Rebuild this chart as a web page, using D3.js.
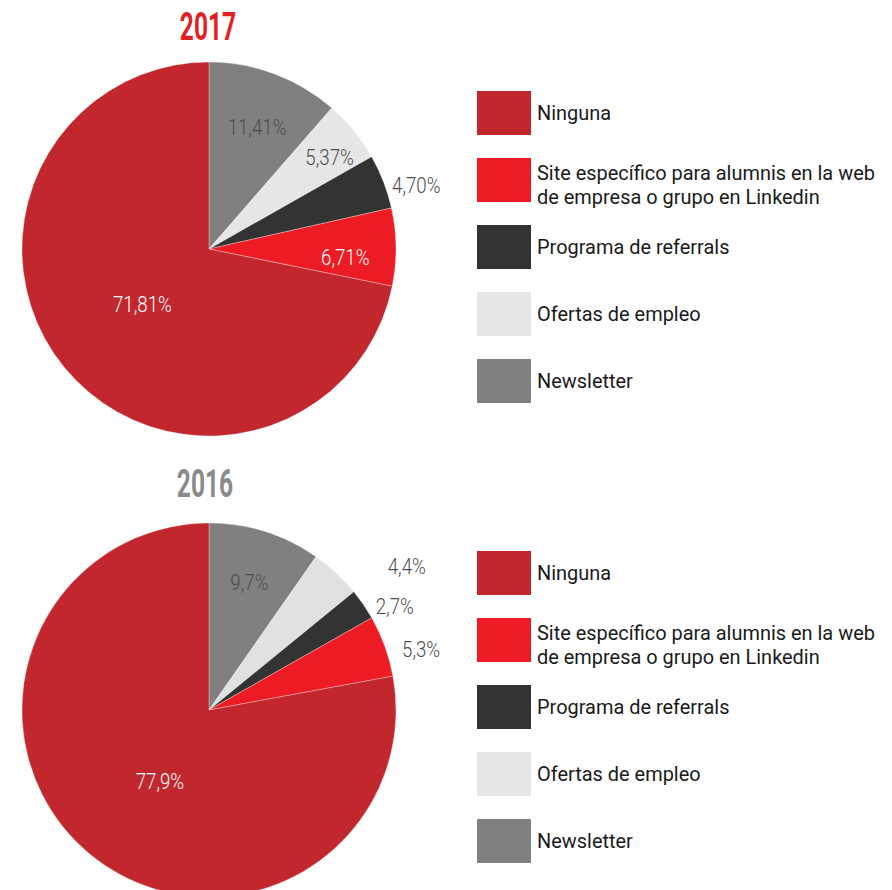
<!DOCTYPE html>
<html>
<head>
<meta charset="utf-8">
<script src="https://cdn.jsdelivr.net/npm/d3@7"></script>
<style>
  html, body { margin: 0; padding: 0; background: #fff; }
  svg { display: block; }
</style>
</head>
<body>
<svg id="chart" width="892" height="890"></svg>
<script>
// Categories, in slice order (clockwise from 12 o'clock)
const categories = ["Newsletter", "Ofertas de empleo", "Programa de referrals",
  "Site específico para alumnis en la web de empresa o grupo en Linkedin", "Ninguna"];
// Legend order (top to bottom)
const legendOrder = ["Ninguna",
  "Site específico para alumnis en la web de empresa o grupo en Linkedin",
  "Programa de referrals", "Ofertas de empleo", "Newsletter"];
const legendLines = {
  "Site específico para alumnis en la web de empresa o grupo en Linkedin":
    ["Site específico para alumnis en la web", "de empresa o grupo en Linkedin"]
};

const years = ["2017", "2016"];
const values2017 = [11.41, 5.37, 4.70, 6.71, 71.81];
const values2016 = [9.7, 4.4, 2.7, 5.3, 77.9];
const labels2017 = ["11,41%", "5,37%", "4,70%", "6,71%", "71,81%"];
const labels2016 = ["9,7%", "4,4%", "2,7%", "5,3%", "77,9%"];

const colors = {
  "Ninguna": "#c1272d",
  "Site específico para alumnis en la web de empresa o grupo en Linkedin": "#ed1c24",
  "Programa de referrals": "#333333",
  "Ofertas de empleo": "#e6e6e6",
  "Newsletter": "#808080"
};
const titleColors = { "2017": "#e31e24", "2016": "#8a8a8a" };
const labelColors = {
  "Ninguna": "#ffffff",
  "Site específico para alumnis en la web de empresa o grupo en Linkedin": "#ffffff",
  "Programa de referrals": "#4d4d4d",
  "Ofertas de empleo": "#4d4d4d",
  "Newsletter": "#4d4d4d"
};

// Label placement per slice: radius as fraction of pie radius, angle shift (degrees)
const labelLayout = {
  "2017": [{ r: 0.70, da: 1 }, { r: 0.81, da: 2 }, { r: 1.16, da: 4 }, { r: 0.73, da: 4 }, { r: 0.46, da: 0 }],
  "2016": [{ r: 0.72, da: 0 }, { r: 1.31, da: 11 }, { r: 1.14, da: 5 }, { r: 1.18, da: 4 }, { r: 0.46, da: -5 }]
};

const svg = d3.select("#chart");
const R = 187;
const cx = 209;
const panels = [
  { year: "2017", values: values2017, labels: labels2017, cy: 249, titleX: 208, titleY: 40, legendY: 91 },
  { year: "2016", values: values2016, labels: labels2016, cy: 710, titleX: 205, titleY: 497, legendY: 551 }
];

const COND = 0.83;      // horizontal squeeze for a condensed look
const LEGEND_COND = 0.95;
const TITLE_COND = 0.63;

const pie = d3.pie().sort(null).value(d => d.value);
const arc = d3.arc().innerRadius(0).outerRadius(R);

panels.forEach(p => {
  const data = categories.map((c, i) => ({ cat: c, value: p.values[i], label: p.labels[i] }));
  const arcs = pie(data);

  // Title
  svg.append("text")
    .attr("transform", `translate(${p.titleX},${p.titleY}) scale(${TITLE_COND},1)`)
    .attr("text-anchor", "middle")
    .attr("font-family", "Roboto, sans-serif")
    .attr("font-weight", 700)
    .attr("font-size", 39)
    .attr("fill", titleColors[p.year])
    .text(p.year);

  const g = svg.append("g").attr("transform", `translate(${cx},${p.cy})`);

  g.selectAll("path.slice")
    .data(arcs)
    .join("path")
    .attr("class", "slice")
    .attr("d", arc)
    .attr("fill", d => (p.year === "2016" && d.data.cat === "Ofertas de empleo") ? "#dfe1e3" : colors[d.data.cat])
    .attr("stroke", "#ffffff")
    .attr("stroke-opacity", 0.5)
    .attr("stroke-width", 0.6);

  // Percentage labels
  g.selectAll("text.lbl")
    .data(arcs)
    .join("text")
    .attr("class", "lbl")
    .attr("transform", (d, i) => {
      const lay = labelLayout[p.year][i];
      const a = (d.startAngle + d.endAngle) / 2 + lay.da * Math.PI / 180;
      const r = lay.r * R;
      const x = Math.sin(a) * r, y = -Math.cos(a) * r;
      return `translate(${x},${y}) scale(${COND},1)`;
    })
    .attr("text-anchor", "middle")
    .attr("dy", "0.36em")
    .attr("font-family", "Roboto, sans-serif")
    .attr("font-weight", 300)
    .attr("font-size", 22.5)
    .attr("fill", (d, i) => labelLayout[p.year][i].r > 1 ? "#4d4d4d" : labelColors[d.data.cat])
    .text(d => d.data.label);

  // Legend
  const step = 67;
  const lg = svg.append("g").attr("transform", `translate(477,${p.legendY})`);
  legendOrder.forEach((c, i) => {
    const row = lg.append("g").attr("transform", `translate(0,${i * step})`);
    row.append("rect").attr("width", 54).attr("height", 44).attr("fill", colors[c]);
    const lines = legendLines[c] || [c];
    const t = row.append("text")
      .attr("transform", `translate(60,${lines.length > 1 ? 15 : 22}) scale(${LEGEND_COND},1)`)
      .attr("font-family", "Roboto, sans-serif")
      .attr("font-size", 21)
      .attr("fill", "#1a1a1a");
    lines.forEach((ln, j) => {
      t.append("tspan").attr("x", 0).attr("y", j * 24).attr("dy", "0.35em").text(ln);
    });
  });
});
</script>
</body>
</html>
